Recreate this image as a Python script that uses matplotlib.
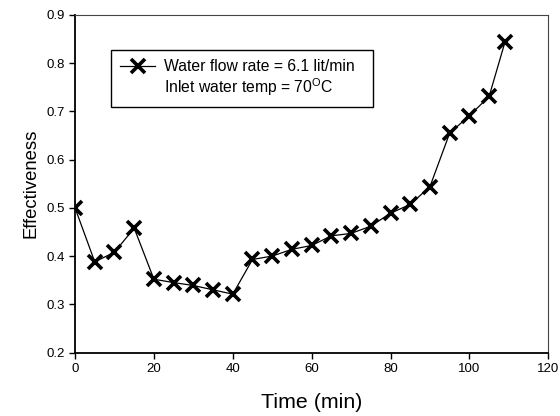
import numpy as np
import matplotlib.pyplot as plt
from matplotlib.lines import Line2D

plt.rcParams['font.family'] = ['Liberation Sans', 'DejaVu Sans']
plt.rcParams['mathtext.fontset'] = 'custom'
plt.rcParams['mathtext.rm'] = 'Liberation Sans'

# DATA
tempo = [0, 5, 10, 15, 20, 25, 30, 35, 40, 45, 50, 55, 60, 65, 70, 75,
         80, 85, 90, 95, 100, 105, 109]
efetividade = [0.500, 0.388, 0.408, 0.458, 0.352, 0.345, 0.339, 0.330, 0.321,
               0.393, 0.400, 0.414, 0.422, 0.442, 0.447, 0.462, 0.489, 0.507,
               0.544, 0.655, 0.691, 0.731, 0.843]
rotulos = ['Water flow rate = 6.1 lit/min', 'Inlet water temp = 70$^{\\mathrm{O}}$C']

fig = plt.figure(figsize=(5.6, 4.16), dpi=100)
ax = fig.add_axes([0.134, 0.1526, 0.845, 0.8114])

linha, = ax.plot(tempo, efetividade, color='black', linewidth=0.9, marker='x',
                 markersize=9.5, markeredgewidth=2.6)

ax.set_xlim(0, 120)
ax.set_ylim(0.2, 0.9)
ax.set_xticks(np.arange(0, 121, 20))
ax.set_yticks(np.arange(0.2, 0.91, 0.1))
ax.set_yticklabels([f'{v:.1f}' for v in np.arange(0.2, 0.91, 0.1)])
ax.tick_params(direction='out', length=4, width=1, labelsize=9.5, colors='black',
               top=False, right=False)
for lado in ['left', 'bottom']:
    ax.spines[lado].set_linewidth(1.3)
for lado in ['top', 'right']:
    ax.spines[lado].set_linewidth(0.8)
    ax.spines[lado].set_color('#444444')

ax.set_xlabel('Time (min)', fontsize=15.4, labelpad=13)
ax.set_ylabel('Effectiveness', fontsize=13.3, labelpad=5)

# legenda: marcador so na primeira linha
vazio = Line2D([], [], linestyle='none', marker='none')
leg = ax.legend([linha, vazio], rotulos, loc='upper left',
                bbox_to_anchor=(0.076, 0.721, 0.554, 0.175), mode='expand',
                fontsize=11.3, fancybox=False, edgecolor='black', framealpha=1,
                handlelength=2.2, handletextpad=0.6, labelspacing=0.1,
                borderaxespad=0, borderpad=0.6)
leg.get_frame().set_linewidth(1.0)

plt.savefig('out.png', dpi=100)
